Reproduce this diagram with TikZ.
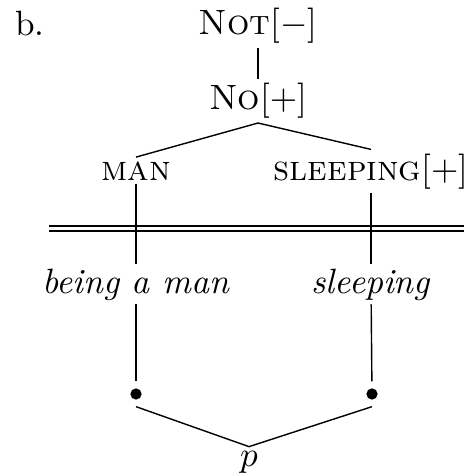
\documentclass[tikz,border=0pt]{standalone}
\begin{document}
\begin{tikzpicture}[x = 0.01cm, y = -0.01cm,
	word/.style = {anchor = base, inner sep = 0pt, outer sep = 1.2pt},
	dot/.style = {circle, fill = black, inner sep = 0pt, minimum size = 3.2pt, outer sep = 2pt}]
	\useasboundingbox (0,0) rectangle (464,473);
	\node [word, anchor = base west] (ex) at (11,36) {b.};
	\node [word] (not) at (258,35) {\textsc{Not}[$-$]};
	\node [word] (no) at (258,110) {\textsc{No}[$+$]};
	\node [word] (man) at (136,180) {\textsc{man}};
	\node [word] (sleep) at (371,180) {\textsc{sleeping}[$+$]};
	\node [word] (being) at (136,293) {\textit{being a man}};
	\node [word] (sleeping) at (371,293) {\textit{sleeping}};
	\node [dot] (dl) at (136,394) {};
	\node [dot] (dr) at (372,394) {};
	\node [word] (p) at (249,466) {$p$};
	% tree
	\draw (not.south) -- (no.north);
	\draw (no.south) -- (man.north);
	\draw (no.south) -- (sleep.north);
	\draw [double, double distance = 1.1pt] (49,228.5) -- (464,228.5);
	\foreach \a/\b in {man/being, sleep/sleeping, being/dl, sleeping/dr}{
	\draw (\a) -- (\b);
	}
	\draw (dl.south) -- (p.north) -- (dr.south);
\end{tikzpicture}
\end{document}
